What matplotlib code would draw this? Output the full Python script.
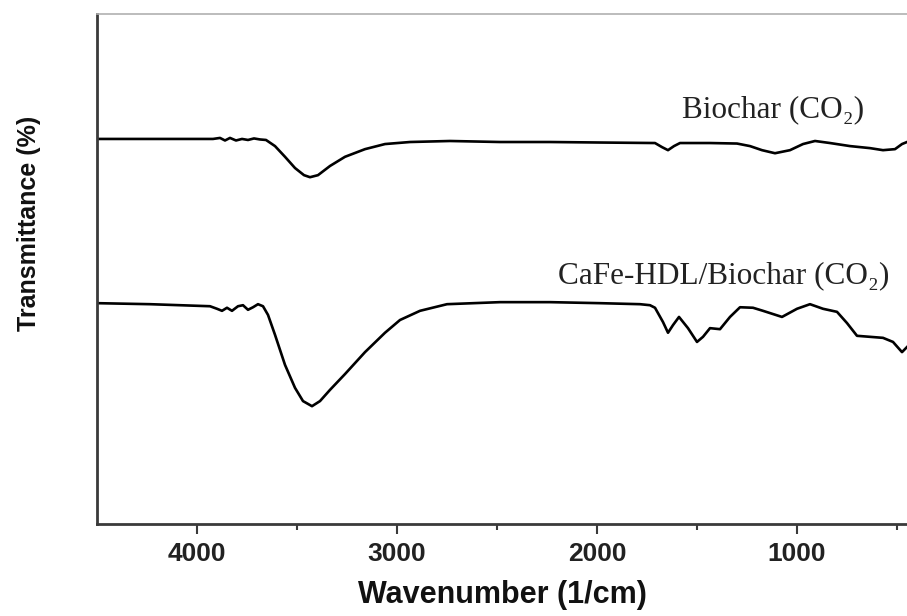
"""FTIR spectra of Biochar (CO2) and CaFe-HDL/Biochar (CO2)."""
import matplotlib
matplotlib.use("Agg")
import matplotlib.pyplot as plt
from matplotlib.ticker import FixedLocator

# --------------------------------------------------------------------------- #
#  Data (transmittance in arbitrary % units)
# --------------------------------------------------------------------------- #
biochar_wn = [4500, 4235, 3920, 3885, 3860, 3835, 3805, 3775, 3745, 3715, 3685,
              3655, 3610, 3560, 3510, 3465, 3435, 3395, 3335, 3260, 3160, 3060,
              2935, 2735, 2485, 2235, 1985, 1710, 1675, 1645, 1615, 1585, 1435,
              1300, 1235, 1175, 1110, 1035, 970, 910, 835, 735, 635, 570, 510,
              475, 450]
biochar_t = [75.5, 75.5, 75.5, 75.7, 75.2, 75.7, 75.2, 75.5, 75.3, 75.6, 75.4,
             75.3, 74.1, 72.0, 69.8, 68.4, 68.0, 68.4, 70.2, 72.0, 73.5, 74.5,
             74.9, 75.1, 74.9, 74.9, 74.8, 74.7, 73.9, 73.3, 74.1, 74.7, 74.7,
             74.6, 74.1, 73.3, 72.7, 73.3, 74.5, 75.1, 74.7, 74.1, 73.7, 73.3,
             73.5, 74.5, 74.9]

hdl_wn = [4500, 4235, 3935, 3900, 3875, 3850, 3825, 3795, 3770, 3745, 3720,
          3695, 3670, 3645, 3610, 3560, 3510, 3470, 3425, 3385, 3335, 3260,
          3160, 3060, 2985, 2885, 2750, 2485, 2235, 1985, 1785, 1735, 1710,
          1670, 1645, 1620, 1590, 1545, 1500, 1470, 1435, 1385, 1335, 1285,
          1220, 1170, 1075, 1000, 935, 870, 800, 750, 700, 635, 570, 520,
          475, 450]
hdl_t = [43.3, 43.1, 42.7, 42.2, 41.8, 42.4, 41.8, 42.7, 42.9, 42.0, 42.5,
         43.1, 42.7, 41.0, 37.1, 31.2, 26.7, 24.1, 23.1, 24.1, 26.3, 29.4,
         33.7, 37.5, 40.0, 41.8, 43.1, 43.5, 43.5, 43.3, 43.1, 42.9, 42.4,
         39.6, 37.5, 39.0, 40.6, 38.4, 35.7, 36.7, 38.4, 38.2, 40.6, 42.5,
         42.4, 41.8, 40.6, 42.2, 43.1, 42.2, 41.6, 39.4, 36.9, 36.7, 36.5,
         35.7, 33.7, 34.7]

major_ticks = [4000, 3000, 2000, 1000]
minor_ticks = [3500, 2500, 1500, 500]

SPINE = "#3a3a3a"
SANS = ["Liberation Sans", "DejaVu Sans"]
SERIF = ["Liberation Serif", "DejaVu Serif"]

fig = plt.figure(figsize=(9.07, 6.16), dpi=100)
ax = fig.add_axes([97 / 907, 92 / 616, 810 / 907, 510 / 616])

ax.plot(biochar_wn, biochar_t, color="black", lw=1.9, solid_joinstyle="round")
ax.plot(hdl_wn, hdl_t, color="black", lw=1.9, solid_joinstyle="round")

ax.set_xlim(4500, 450)
ax.set_ylim(0, 100)

# spines: dark left/bottom, faint top, no right
ax.spines["right"].set_visible(False)
ax.spines["top"].set_color("#b0b0b0")
ax.spines["top"].set_linewidth(1.2)
for side in ("left", "bottom"):
    ax.spines[side].set_color(SPINE)
    ax.spines[side].set_linewidth(2.0)

ax.xaxis.set_major_locator(FixedLocator(major_ticks))
ax.xaxis.set_minor_locator(FixedLocator(minor_ticks))
ax.tick_params(axis="x", which="major", length=7, width=1.5, color=SPINE,
               direction="out", pad=6)
ax.tick_params(axis="x", which="minor", length=4, width=1.5, color=SPINE,
               direction="out")
ax.set_yticks([])
for lab in ax.get_xticklabels():
    lab.set_fontfamily(SANS)
    lab.set_fontweight("bold")
    lab.set_fontsize(19)
    lab.set_color("#222222")

ax.set_xlabel("Wavenumber (1/cm)", fontsize=22, fontweight="bold",
              family=SANS, color="#111111", labelpad=10)
ax.set_ylabel("Transmittance (%)", fontsize=18, fontweight="bold",
              family=SANS, color="#111111")
ax.yaxis.set_label_coords(-0.069, 0.59)

ax.text(1575, 79.8, "Biochar (CO₂)", fontsize=22.5, family=SERIF,
        color="#222222", ha="left", va="baseline")
ax.text(2195, 47.3, "CaFe-HDL/Biochar (CO₂)", fontsize=22.5, family=SERIF,
        color="#222222", ha="left", va="baseline")

fig.savefig("out.png", dpi=100)
